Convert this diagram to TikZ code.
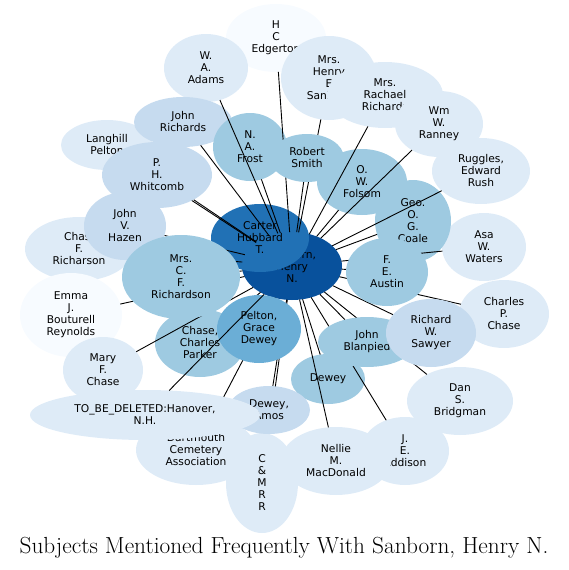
\documentclass[tikz,border=0pt]{standalone}
\usepackage{fontspec}
\newfontfamily\nodefont{DejaVu Sans}
\usetikzlibrary{shapes.geometric}
\definecolor{cA}{HTML}{F7FBFF}
\definecolor{cB}{HTML}{DEEBF7}
\definecolor{cC}{HTML}{C6DBEF}
\definecolor{cD}{HTML}{9ECAE1}
\definecolor{cE}{HTML}{6BAED6}
\definecolor{cF}{HTML}{2171B5}
\definecolor{cG}{HTML}{08519C}
\pgfdeclarelayer{bottom}
\pgfdeclarelayer{edges}
\pgfdeclarelayer{top}
\pgfsetlayers{bottom,edges,main,top}
\begin{document}
\begin{tikzpicture}[x=1pt,y=-1pt,
  bub/.style={ellipse, inner sep=0pt, outer sep=0pt, align=center, text=black,
    font=\nodefont\fontsize{10.7}{12}\selectfont},
  sz/.style 2 args={minimum width=2*#1, minimum height=2*#2},
  link/.style={draw=black, line width=0.9pt}]
\useasboundingbox (0,0) rectangle (569,570);
\begin{pgfonlayer}{bottom}
\node[bub, fill=cA, sz={50}{34}] (edgerton) at (276,38) {H\\C\\Edgerton};
\node[bub, fill=cB, sz={42}{34}] (adams) at (206,68) {W.\\A.\\Adams};
\node[bub, fill=cB, sz={48}{42}] (mrshenry) at (329,78) {Mrs.\\Henry\\E\\Sanborn};
\node[bub, fill=cB, sz={58}{33}] (rachael) at (385,95) {Mrs.\\Rachael\\Richards};
\node[bub, fill=cB, sz={44}{33}] (ranney) at (439,124) {Wm\\W.\\Ranney};
\node[bub, fill=cB, sz={49}{33}] (ruggles) at (481,171) {Ruggles,\\Edward\\Rush};
\node[bub, fill=cB, sz={46}{25}] (langhill) at (107,145) {Langhill\\Pelton};
\node[bub, fill=cC, sz={49}{25}] (jrichards) at (183,122) {John\\Richards};
\node[bub, fill=cD, sz={37}{34}] (frost) at (250,147) {N.\\A.\\Frost};
\node[bub, fill=cD, sz={45}{33}] (folsom) at (362,182) {O.\\W.\\Folsom};
\node[bub, fill=cB, sz={42}{34}] (asa) at (484,247) {Asa\\W.\\Waters};
\node[bub, fill=cD, sz={38}{41}] (coale) at (413,221) {Geo.\\O.\\G.\\Coale};
\node[bub, fill=cG, sz={50}{34}] (sanborn) at (292,266) {Sanborn,\\Henry\\N.};
\node[bub, fill=cF, sz={49}{34}] (carter) at (260,238) {Carter\\Hubbard\\T.};
\node[bub, fill=cB, sz={54}{32}] (chas) at (79,249) {Chas.\\F.\\Richarson};
\node[bub, fill=cA, sz={51}{42}] (emma) at (71,315) {Emma\\J.\\Bouturell\\Reynolds};
\node[bub, fill=cB, sz={40}{33}] (mary) at (103,370) {Mary\\F.\\Chase};
\node[bub, fill=cD, sz={45}{34}] (ccp) at (200,343) {Chase,\\Charles\\Parker};
\node[bub, fill=cD, sz={37}{25}] (dewey) at (328,379) {Dewey};
\node[bub, fill=cB, sz={53}{34}] (bridgman) at (460,401) {Dan\\S.\\Bridgman};
\node[bub, fill=cB, sz={44}{34}] (addison) at (405,451) {J.\\E.\\Addison};
\node[bub, fill=cB, sz={55}{34}] (nellie) at (336,461) {Nellie\\M.\\MacDonald};
\node[bub, fill=cB, sz={60}{35}] (dartmouth) at (196,450) {Dartmouth\\Cemetery\\Association};
\node[bub, fill=cB, sz={36}{50}] (cmrr) at (262,483) {C\\\&\\M\\R\\R};
\node[bub, fill=cB, sz={45}{34}] (cpchase) at (504,314) {Charles\\P.\\Chase};
\end{pgfonlayer}
\node[bub, fill=cD, sz={37}{24}] (robertsmith) at (307,158) {Robert\\Smith};
\node[bub, fill=cC, sz={55}{33}] (whitcomb) at (157,175) {P.\\H.\\Whitcomb};
\node[bub, fill=cC, sz={41}{34}] (hazen) at (125,226) {John\\V.\\Hazen};
\node[bub, fill=cD, sz={59}{42}] (richardson) at (181,277) {Mrs.\\C.\\F.\\Richardson};
\node[bub, fill=cD, sz={41}{34}] (austin) at (387,272) {F.\\E.\\Austin};
\node[bub, fill=cD, sz={49}{25}] (blanpied) at (367,342) {John\\Blanpied};
\node[bub, fill=cC, sz={45}{34}] (sawyer) at (431,333) {Richard\\W.\\Sawyer};
\node[bub, fill=cE, sz={42}{34}] (pelton) at (259,329) {Pelton,\\Grace\\Dewey};
\node[bub, fill=cC, sz={41}{24}] (deweyamos) at (269,410) {Dewey,\\Amos};
\node[bub, fill=cB, sz={115}{25}] (hanover) at (145,415) {TO\_BE\_DELETED:Hanover,\\N.H.};
\node[font=\fontsize{23.3}{27}\selectfont] (title) at (284,548) {Subjects Mentioned Frequently With Sanborn, Henry N.};
\begin{pgfonlayer}{edges}
\foreach \n in {edgerton,adams,mrshenry,rachael,ranney,ruggles,langhill,jrichards,frost,folsom,asa,coale,chas,emma,mary,ccp,dewey,bridgman,addison,nellie,dartmouth,cmrr,cpchase,robertsmith,whitcomb,hazen,richardson,austin,blanpied,sawyer,pelton,deweyamos}
  \draw[link] (\n) -- (sanborn);
\end{pgfonlayer}
\begin{pgfonlayer}{top}
\draw[link] (hanover) -- (sanborn);
\end{pgfonlayer}
\end{tikzpicture}
\end{document}
